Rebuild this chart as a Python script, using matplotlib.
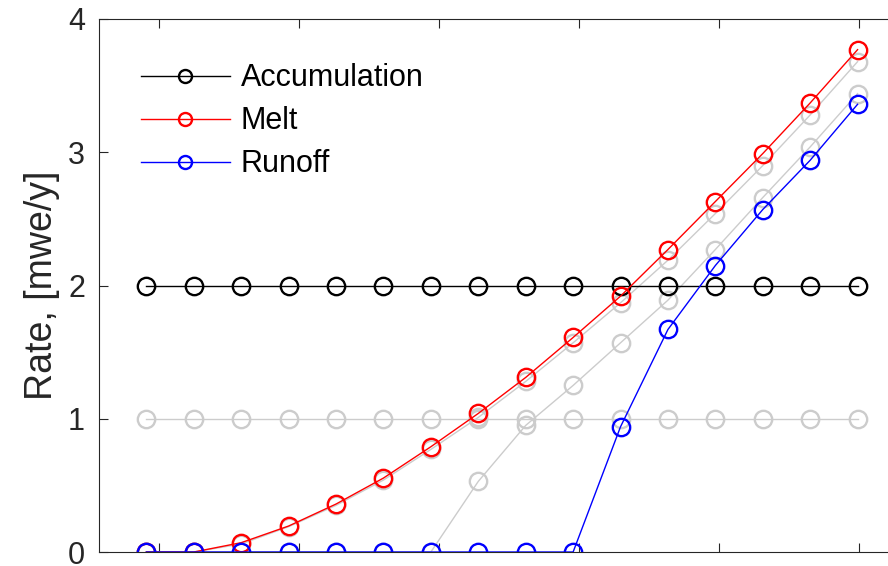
import numpy as np
import matplotlib
matplotlib.use("Agg")
import matplotlib.pyplot as plt

plt.rcParams['font.family'] = ['Liberation Sans', 'DejaVu Sans']

# 16 model steps
step = np.arange(16)

# current scenario
accumulation = [2.0] * 16
melt = [0, 0, 0.07, 0.195, 0.36, 0.555, 0.79, 1.04, 1.31, 1.61,
        1.92, 2.27, 2.63, 2.99, 3.37, 3.77]
runoff = [0, 0, 0, 0, 0, 0, 0, 0, 0, 0,
          0.94, 1.67, 2.15, 2.57, 2.94, 3.36]

# reference scenario (grey)
accumulation_ref = [1.0] * 16
melt_ref = [0, 0, 0.06, 0.19, 0.35, 0.54, 0.77, 1.01, 1.28, 1.57,
            1.87, 2.19, 2.54, 2.90, 3.28, 3.68]
runoff_ref = [0, 0, 0, 0, 0, 0, 0, 0.53, 0.95, 1.25,
              1.57, 1.89, 2.27, 2.66, 3.04, 3.44]

grey = (0.8, 0.8, 0.8)
ms = 12.5
mew = 1.7
lw = 1.0

fig = plt.figure(figsize=(8.88, 5.66), dpi=100)
# axes run past the right edge of the picture (cropped like the original)
ax = fig.add_axes([99 / 888, 14 / 566, (905 - 99) / 888, (552 - 19) / 566])

for s in (accumulation_ref, melt_ref, runoff_ref):
    ax.plot(step, s, '-o', color=grey, mfc='none', ms=ms, mew=mew, lw=lw)

ax.plot(step, accumulation, '-o', color='k', mfc='none', ms=ms, mew=mew, lw=lw,
        label='Accumulation')
ax.plot(step, melt, '-o', color='r', mfc='none', ms=ms, mew=mew, lw=lw,
        label='Melt')
ax.plot(step, runoff, '-o', color='b', mfc='none', ms=ms, mew=mew, lw=lw,
        label='Runoff')

ax.set_xlim(-1, 16)
ax.set_ylim(0, 4)
ax.set_yticks([0, 1, 2, 3, 4])
ax.set_xticks(0.27 + 2.954 * np.arange(6))
ax.set_xticklabels([])
ax.tick_params(direction='in', length=6.5, width=0.8, colors='#262626',
               labelsize=22, pad=10, top=True, right=True)
for sp in ax.spines.values():
    sp.set_color('#262626')
    sp.set_linewidth(0.8)

ax.set_ylabel('Rate, [mwe/y]', fontsize=27, color='#262626', labelpad=6)

ax.legend(loc='upper left', bbox_to_anchor=(0.037, 0.94), frameon=False,
          fontsize=22, handlelength=2.9, handletextpad=0.36, markerscale=0.75,
          labelspacing=0.43, borderaxespad=0)

fig.savefig('out.png', dpi=100)
